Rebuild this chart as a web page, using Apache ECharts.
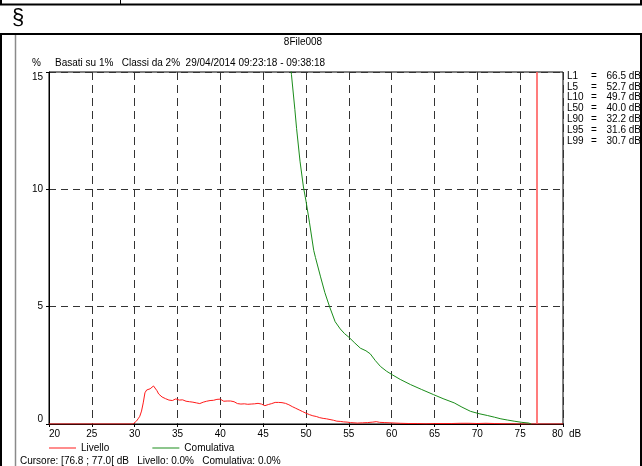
<!DOCTYPE html>
<html>
<head>
<meta charset="utf-8">
<script src="https://cdn.jsdelivr.net/npm/echarts@6/dist/echarts.min.js"></script>
<style>
html,body{margin:0;padding:0;background:#fff;}
#c{width:642px;height:466px;}
</style>
</head>
<body>
<div id="c"></div>
<script>
// ---- data ----
var xTicks = [20, 25, 30, 35, 40, 45, 50, 55, 60, 65, 70, 75, 80];
var yTicks = [0, 5, 10, 15];

var livelloDb = [20.0, 29.8, 30.0, 30.2, 30.4, 30.6, 30.8, 31.0, 31.2, 31.4, 31.6, 31.8, 32.0, 32.2, 32.4, 32.6, 32.8, 33.0, 33.2, 33.4, 33.6, 33.8, 34.0, 34.2, 34.4, 34.6, 34.8, 35.0, 35.2, 35.4, 35.6, 35.8, 36.0, 36.2, 36.4, 36.6, 36.8, 37.0, 37.2, 37.4, 37.6, 37.8, 38.0, 38.2, 38.4, 38.6, 38.8, 39.0, 39.2, 39.4, 39.6, 39.8, 40.0, 40.2, 40.4, 40.6, 40.8, 41.0, 41.2, 41.4, 41.6, 41.8, 42.0, 42.2, 42.4, 42.6, 42.8, 43.0, 43.2, 43.4, 43.6, 43.8, 44.0, 44.2, 44.4, 44.6, 44.8, 45.0, 45.2, 45.4, 45.6, 45.8, 46.0, 46.2, 46.4, 46.6, 46.8, 47.0, 47.2, 47.4, 47.6, 47.8, 48.0, 48.2, 48.4, 48.6, 48.8, 49.0, 49.2, 49.4, 49.6, 49.8, 50.0, 50.2, 50.4, 50.6, 50.8, 51.0, 51.2, 51.4, 51.6, 51.8, 52.0, 52.4, 52.8, 53.2, 53.6, 54.0, 54.4, 54.8, 55.2, 55.6, 56.0, 56.6, 57.2, 57.8, 58.2, 58.6, 59.2, 59.8, 60.4, 61.0, 62.0, 63.0, 64.0, 65.0, 66.0, 67.0, 68.0, 69.0, 70.0, 71.0, 72.0, 73.0, 74.0, 75.0, 80.0];
var livelloPct = [0, 0, 0.02, 0.12, 0.22, 0.33, 0.55, 0.9, 1.33, 1.45, 1.5, 1.5, 1.55, 1.62, 1.55, 1.42, 1.28, 1.2, 1.15, 1.12, 1.08, 1.04, 1.02, 1.05, 1.0, 1.04, 1.07, 1.05, 1.02, 1.0, 1.03, 0.98, 0.97, 1.0, 0.95, 0.94, 0.93, 0.92, 0.9, 0.88, 0.87, 0.9, 0.93, 0.95, 0.97, 0.96, 1.0, 1.02, 1.01, 1.04, 1.05, 1.07, 1.06, 1.02, 0.97, 0.93, 0.98, 1.02, 0.98, 0.93, 0.95, 0.9, 0.87, 0.86, 0.85, 0.87, 0.86, 0.85, 0.84, 0.86, 0.85, 0.83, 0.86, 0.9, 0.88, 0.86, 0.85, 0.82, 0.78, 0.8, 0.83, 0.85, 0.87, 0.9, 0.92, 0.93, 0.92, 0.9, 0.91, 0.9, 0.88, 0.85, 0.82, 0.78, 0.74, 0.71, 0.67, 0.63, 0.6, 0.56, 0.53, 0.5, 0.46, 0.44, 0.4, 0.38, 0.35, 0.33, 0.32, 0.3, 0.27, 0.25, 0.24, 0.22, 0.19, 0.16, 0.12, 0.11, 0.09, 0.08, 0.06, 0.05, 0.04, 0.05, 0.06, 0.08, 0.1, 0.07, 0.06, 0.05, 0.04, 0.03, 0.02, 0.02, 0.01, 0.02, 0.02, 0.02, 0.03, 0.03, 0.02, 0.03, 0.02, 0.01, 0.01, 0.0, 0.0];

var comulativaDb = [20, 30, 30.7, 31.6, 32.2, 35, 40, 45, 47, 47.6, 48.0, 48.3, 48.7, 48.9, 49.3, 49.7, 50.0, 50.4, 50.9, 51.1, 51.7, 52.2, 52.75, 53.4, 54.0, 54.5, 55.0, 55.7, 56.35, 57.0, 57.5, 58.1, 58.7, 59.4, 60.06, 61.0, 62.2, 63.5, 64.9, 66.0, 67.3, 68.2, 69.2, 70.2, 71.2, 72.0, 72.75, 73.5, 74.3, 75.2, 76.0, 76.3];
var comulativaPct = [100, 100, 99, 95, 90, 75, 50, 30, 20, 17.5, 16.0, 14.9, 13.4, 12.6, 11.2, 10.1, 9.5, 8.6, 7.4, 7.1, 6.27, 5.6, 5.0, 4.36, 4.05, 3.85, 3.7, 3.45, 3.23, 3.12, 2.99, 2.7, 2.45, 2.25, 2.1, 1.9, 1.68, 1.47, 1.25, 1.08, 0.9, 0.72, 0.54, 0.44, 0.36, 0.29, 0.22, 0.17, 0.12, 0.07, 0.04, 0.0];

var cursorDb = 76.9;
var statNames = ['L1', 'L5', 'L10', 'L50', 'L90', 'L95', 'L99'];
var statValues = [66.5, 52.7, 49.7, 40.0, 32.2, 31.6, 30.7];

var chartTitle = '8File008';
var subTitle = 'Basati su 1%   Classi da 2%  29/04/2014 09:23:18 - 09:38:18';
var cursorText = 'Cursore: [76.8 ; 77.0[ dB   Livello: 0.0%   Comulativa: 0.0%';

// ---- build ----
function zip(a, b) { var r = []; for (var i = 0; i < a.length; i++) r.push([a[i], b[i]]); return r; }
var FONT = '"Liberation Sans", Arial, sans-serif';

var graphics = [
  // top strip
  {type: 'line', shape: {x1: 0, y1: 4.5, x2: 642, y2: 4.5}, style: {stroke: '#000', lineWidth: 2}},
  {type: 'line', shape: {x1: 1, y1: 0, x2: 1, y2: 5}, style: {stroke: '#000', lineWidth: 2}},
  {type: 'line', shape: {x1: 120.5, y1: 0, x2: 120.5, y2: 5}, style: {stroke: '#000', lineWidth: 1}},
  {type: 'line', shape: {x1: 641, y1: 0, x2: 641, y2: 5}, style: {stroke: '#000', lineWidth: 2}},
  {type: 'text', left: 12, top: 7, style: {text: '§', font: '22px ' + FONT, fill: '#000'}},
  // frame
  {type: 'line', shape: {x1: 0, y1: 34, x2: 642, y2: 34}, style: {stroke: '#000', lineWidth: 2}},
  {type: 'line', shape: {x1: 1, y1: 34, x2: 1, y2: 466}, style: {stroke: '#000', lineWidth: 2}},
  {type: 'line', shape: {x1: 641, y1: 34, x2: 641, y2: 466}, style: {stroke: '#000', lineWidth: 2}},
  {type: 'line', shape: {x1: 15.5, y1: 35, x2: 15.5, y2: 466}, style: {stroke: '#8a8a8a', lineWidth: 1.5}},
  // texts
  {type: 'text', x: 303, y: 42, style: {text: chartTitle, font: '10px ' + FONT, fill: '#000', align: 'center', verticalAlign: 'middle'}},
  {type: 'text', x: 55, y: 63, style: {text: subTitle, font: '10px ' + FONT, fill: '#000', align: 'left', verticalAlign: 'middle'}},
  {type: 'text', x: 20, y: 461, style: {text: cursorText, font: '10px ' + FONT, fill: '#000', align: 'left', verticalAlign: 'middle'}}
];
for (var i = 0; i < statNames.length; i++) {
  var yy = 76 + i * 10.8;
  graphics.push({type: 'text', x: 567, y: yy, style: {text: statNames[i], font: '10px ' + FONT, fill: '#000', align: 'left', verticalAlign: 'middle'}});
  graphics.push({type: 'text', x: 591, y: yy, style: {text: '=', font: '10px ' + FONT, fill: '#000', align: 'left', verticalAlign: 'middle'}});
  graphics.push({type: 'text', x: 641, y: yy, style: {text: statValues[i].toFixed(1) + ' dB', font: '10px ' + FONT, fill: '#000', align: 'right', verticalAlign: 'middle'}});
}

var chart = echarts.init(document.getElementById('c'), null, {renderer: 'canvas'});
chart.setOption({
  animation: false,
  backgroundColor: '#fff',
  textStyle: {fontFamily: FONT},
  grid: {left: 49, right: 79, top: 72, bottom: 42, show: true, borderColor: '#000', borderWidth: 1, containLabel: false},
  legend: {
    left: 44, top: 438, padding: 5, itemWidth: 27, itemHeight: 1, itemGap: 43, icon: 'rect',
    textStyle: {fontSize: 10, color: '#000', fontFamily: FONT},
    data: ['Livello', 'Comulativa']
  },
  xAxis: {
    type: 'value', min: xTicks[0], max: xTicks[xTicks.length - 1], interval: 5,
    name: 'dB', nameLocation: 'end', nameGap: 5,
    nameTextStyle: {fontSize: 10, color: '#000', verticalAlign: 'top', padding: [5, 0, 0, 0], fontFamily: FONT},
    axisLine: {lineStyle: {color: '#000', width: 1}},
    axisTick: {show: true, length: 3, lineStyle: {color: '#000'}},
    axisLabel: {fontSize: 10, color: '#000', margin: 5, alignMinLabel: 'left', alignMaxLabel: 'right', fontFamily: FONT},
    splitLine: {show: true, lineStyle: {color: '#333', type: [8, 5], width: 1}}
  },
  yAxis: {
    type: 'value', min: yTicks[0], max: yTicks[yTicks.length - 1], interval: 5,
    name: '%', nameLocation: 'end', nameGap: 4,
    nameTextStyle: {fontSize: 10, color: '#000', align: 'right', padding: [0, 8, 0, 0], fontFamily: FONT},
    axisLine: {show: true, lineStyle: {color: '#000', width: 1}},
    axisTick: {show: true, length: 3, lineStyle: {color: '#000'}},
    axisLabel: {fontSize: 10, color: '#000', margin: 6, verticalAlignMinLabel: 'bottom', verticalAlignMaxLabel: 'top', fontFamily: FONT},
    splitLine: {show: true, lineStyle: {color: '#333', type: [7, 5], width: 1}}
  },
  series: [
    {
      name: 'Livello', type: 'line', symbol: 'none', clip: true,
      data: zip(livelloDb, livelloPct),
      lineStyle: {color: '#ff1a1a', width: 1}, itemStyle: {color: '#ff1a1a'},
      markLine: {
        silent: true, symbol: 'none', label: {show: false},
        lineStyle: {color: '#ff5050', type: 'solid', width: 1.5},
        data: [{xAxis: cursorDb}]
      }
    },
    {
      name: 'Comulativa', type: 'line', symbol: 'none', clip: true,
      data: zip(comulativaDb, comulativaPct),
      lineStyle: {color: '#1a8c1a', width: 1}, itemStyle: {color: '#1a8c1a'}
    }
  ],
  graphic: graphics
});
</script>
</body>
</html>
